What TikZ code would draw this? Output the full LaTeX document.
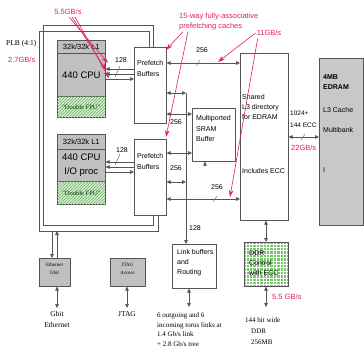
\documentclass[tikz,border=0pt]{standalone}
\usepackage{fontspec}
\setmainfont{Liberation Sans}
\newfontfamily\tnr{Liberation Serif}
\usetikzlibrary{arrows.meta,patterns}
\definecolor{magred}{RGB}{226,32,96}
\definecolor{boxgray}{RGB}{192,192,192}
\definecolor{edgray}{RGB}{200,200,200}
\definecolor{lnc}{RGB}{85,85,85}
\definecolor{fpug}{RGB}{214,238,208}
\definecolor{hatchg}{RGB}{110,175,100}
\definecolor{ddrg}{RGB}{120,198,108}
\begin{document}
\begin{tikzpicture}[x=1pt,y=-1pt,
  box/.style={draw=lnc, line width=0.6pt, inner sep=0pt, anchor=north west},
  gbox/.style={box, fill=boxgray},
  fpubox/.style={box, fill=fpug, postaction={pattern=north east lines, pattern color=hatchg}},
  ddrbox/.style={box, fill=ddrg},
  lbl/.style={inner sep=0pt, anchor=west, align=left, font=\fontsize{7}{10}\selectfont},
  rlbl/.style={inner sep=0pt, text=magred, align=left, font=\fontsize{7.5}{10}\selectfont},
  slbl/.style={inner sep=0pt, align=left, font=\tnr\fontsize{7}{9.7}\selectfont},
  ln/.style={draw=lnc, line width=0.6pt},
  tip/.style={ln, -{Triangle[length=4pt,width=3.6pt]}},
  dtip/.style={ln, {Triangle[length=4pt,width=3.6pt]}-{Triangle[length=4pt,width=3.6pt]}},
  rarr/.style={draw=magred, line width=0.6pt, -{Stealth[length=7pt,width=4.5pt]}},
  sl/.style={ln, line width=0.4pt},
  gridln/.style={draw=white, line width=0.7pt}
]
\useasboundingbox (0,0) rectangle (364,348);
\fill[white] (0,0) rectangle (364,348);

% ---- boxes ----
\node[gbox, minimum width=48pt, minimum height=13pt] (l1a) at (57,40) {};
\node[gbox, minimum width=48pt, minimum height=43pt] (cpua) at (57,53) {};
\node[fpubox, minimum width=48pt, minimum height=21pt] (fpua) at (57,96) {};
\node[gbox, minimum width=48pt, minimum height=15pt] (l1b) at (57,134) {};
\node[gbox, minimum width=48pt, minimum height=32pt] (cpub) at (57,149) {};
\node[fpubox, minimum width=48pt, minimum height=23pt] (fpub) at (57,181) {};
\node[box, fill=white, minimum width=32pt, minimum height=76pt] (pfa) at (134,47) {};
\node[box, fill=white, minimum width=32pt, minimum height=76pt] (pfb) at (134,139) {};
\node[box, fill=white, minimum width=43pt, minimum height=53pt] (sram) at (192,108) {};
\node[box, fill=white, minimum width=48pt, minimum height=167pt] (l3) at (240,53) {};
\node[box, fill=edgray, minimum width=44pt, minimum height=167pt] (edram) at (319,58) {};
\node[box, fill=white, minimum width=44pt, minimum height=44pt] (link) at (172,244) {};
\node[ddrbox, minimum width=44pt, minimum height=44pt] (ddr) at (244,242) {};
\node[gbox, minimum width=35pt, minimum height=28pt] (jtag) at (110,258) {};
\node[gbox, minimum width=31pt, minimum height=28pt] (eth) at (39,258) {};

% DDR checkered grid
\begin{scope}
  \clip (ddr.north west) rectangle (ddr.south east);
  \foreach \gx in {246,249.4,...,288} { \draw[gridln] (\gx,242) -- (\gx,286); }
  \foreach \gy in {244,247.4,...,286} { \draw[gridln] (244,\gy) -- (288,\gy); }
\end{scope}
\draw[ln] (ddr.north west) rectangle (ddr.south east);

% ---- box texts ----
\node[inner sep=0pt, font=\fontsize{7.5}{9}\selectfont] (l1at) at (l1a) {32k/32k L1};
\node[inner sep=0pt, font=\fontsize{9.5}{11}\selectfont] (cpuat) at (cpua) {440 CPU};
\node[inner sep=0pt, text=green!25!black, font=\tnr\fontsize{6.5}{8}\selectfont] (fpuat) at (fpua) {"Double FPU"};
\node[inner sep=0pt, font=\fontsize{7.5}{9}\selectfont] (l1bt) at (l1b) {32k/32k L1};
\node[inner sep=0pt, align=center, font=\fontsize{9.5}{14}\selectfont] (cpubt) at (cpub) {440 CPU\\I/O proc};
\node[inner sep=0pt, text=green!25!black, font=\tnr\fontsize{6.5}{8}\selectfont] (fpubt) at (fpub) {"Double FPU"};
\node[lbl, font=\fontsize{7}{11}\selectfont] (pfat) at (137,68.5) {Prefetch\\Buffers};
\node[lbl, font=\fontsize{7}{11}\selectfont] (pfbt) at (137,161.5) {Prefetch\\Buffers};
\node[lbl, font=\fontsize{7}{10.5}\selectfont] (sramt) at (196,128.5) {Multiported\\SRAM\\Buffer};
\node[lbl] (l3t) at (242,107) {Shared\\L3 directory\\for EDRAM};
\node[lbl] (l3t2) at (242,171) {Includes ECC};
\node[lbl, font=\bfseries\fontsize{7}{10}\selectfont] (edt1) at (323,82) {4MB\\EDRAM};
\node[lbl] (edt2) at (323,110) {L3 Cache};
\node[lbl] (edt3) at (323,130) {Multibank};
\node[lbl] (edt4) at (323,170) {I};
\node[lbl] (linkt) at (177,263) {Link buffers\\and\\Routing};
\node[lbl] (ddrt) at (249,263.5) {DDR\\Control\\with ECC};
\node[inner sep=0pt, align=center, font=\tnr\fontsize{5}{8}\selectfont] (jtagt) at (127.5,269) {JTAG\\Access};
\node[inner sep=0pt, align=center, font=\tnr\fontsize{5}{8}\selectfont] (etht) at (54.5,269) {Ethernet\\Gbit};

% ---- frame (PLB) ----
\draw[ln] (pfa.north -| 153,0) -- (153,25) -- (43,25) -- (43,225) -- (153,225) -- (pfb.south -| 153,0);
\draw[ln] (pfa.north -| 149,0) -- (149,31) -- (39,31) -- (39,231) -- (158,231) -- (pfb.south -| 158,0);

% ---- CPU <-> prefetch ----
\draw[tip] (pfa.west |- 0,69) -- (cpua.east |- 0,69);
\draw[tip] (pfa.west |- 0,74) -- (cpua.east |- 0,74);
\draw[tip] (cpua.east |- 0,79) -- (pfa.west |- 0,79);
\draw[sl] (115,77) -- (120,66);
\node[lbl] (b128a) at (115,60) {128};
\draw[tip] (pfb.west |- 0,162) -- (cpub.east |- 0,162);
\draw[tip] (pfb.west |- 0,167) -- (cpub.east |- 0,167);
\draw[tip] (cpub.east |- 0,172) -- (pfb.west |- 0,172);
\draw[sl] (115,165) -- (120,154);
\node[lbl] (b128b) at (116,150) {128};

% ---- prefetch right side ----
\coordinate (busTop) at (186,93);
\draw[dtip] (pfa.east |- 0,63) -- (l3.west |- 0,63);
\draw[sl] (196,66) -- (200,60);
\node[lbl] (b256a) at (196,50) {256};
\draw[dtip] (pfa.east |- busTop) -- (busTop);
\draw[dtip] (pfa.east |- 0,114) -- (sram.west |- 0,114);
\node[lbl] (b256b) at (170,122) {256};
\draw[dtip] (pfb.east |- 0,153) -- (sram.west |- 0,153);
\draw[dtip] (pfb.east |- 0,182) -- (busTop |- 0,182);
\node[lbl] (b256c) at (170,168) {256};
\draw[dtip] (pfb.east |- 0,199) -- (l3.west |- 0,199);
\draw[sl] (213,202) -- (217,196);
\node[lbl] (b256d) at (211,187) {256};
\draw[tip] (busTop) -- (busTop |- link.north);
\node[lbl] (b128c) at (189,228) {128};
\coordinate (sramin) at (205,166);
\draw[tip] (sramin) -- (sramin |- sram.south);

% ---- L3 connections ----
\draw[dtip] (l3.east |- 0,137) -- (edram.west |- 0,137);
\draw[sl] (301,140) -- (305,134);
\node[lbl, font=\fontsize{6.5}{12}\selectfont] (b1024) at (290,119) {1024+\\144 ECC};
\node[rlbl, anchor=west] (r22) at (291,148) {22GB/s};
\draw[dtip] (l3.south -| 266,0) -- (ddr.north -| 266,0);
\coordinate (ddrEnd) at (266,307);
\draw[dtip] (ddr.south -| ddrEnd) -- (ddrEnd);
\node[rlbl, anchor=west] (r55b) at (272,297) {5.5 GB/s};
\node[slbl, anchor=west, font=\tnr\fontsize{7}{11}\selectfont] (ddrtxt) at (245,331) {144 bit wide\\\hspace*{6pt}DDR\\\hspace*{6pt}256MB};

% ---- link / jtag / ethernet ----
\coordinate (linkEnd) at (189,307);
\draw[dtip] (link.south -| linkEnd) -- (linkEnd);
\node[slbl, anchor=west] (torus) at (157,329.5) {6 outgoing and 6\\incoming torus links at\\1.4 Gb/s link\\+ 2.8 Gb/s tree};
\coordinate (jtagEnd) at (127,308);
\draw[dtip] (jtag.south -| jtagEnd) -- (jtagEnd);
\node[slbl, anchor=north, align=center, font=\tnr\fontsize{7.5}{10}\selectfont] (jtagl) at (127,311) {JTAG};
\coordinate (ethEnd) at (57,308);
\draw[dtip] (eth.south -| ethEnd) -- (ethEnd);
\node[slbl, anchor=north, align=center, font=\tnr\fontsize{7.5}{11}\selectfont] (ethl) at (57,311) {Gbit\\Ethernet};
\coordinate (plbA) at (52,231);
\coordinate (plbB) at (57,231);
\draw[tip] (plbA) -- (plbA |- eth.north);
\draw[tip] (plbB |- eth.north) -- (plbB);

% ---- side labels ----
\node[slbl, anchor=west, font=\tnr\fontsize{7.5}{9}\selectfont] (plb) at (6,44) {PLB (4:1)};
\node[rlbl, anchor=west] (r27) at (8,60) {2.7GB/s};

% ---- red annotations ----
\node[rlbl] (r55) at (68,12) {5.5GB/s};
\coordinate (e1) at (108,63);
\coordinate (e2) at (106,70);
\coordinate (e3) at (109,78);
\draw[rarr] ([xshift=1pt,yshift=-2pt]r55.south) -- (e1);
\draw[rarr] ([xshift=4pt,yshift=-2pt]r55.south) -- (e2);
\draw[rarr] ([xshift=7pt,yshift=-2pt]r55.south) -- (e3);

\node[rlbl, anchor=west] (r15) at (179,22) {15-way fully-associative\\prefetching caches};
\coordinate (e4) at (166,50);
\coordinate (e5) at (166,137);
\draw[rarr] ([xshift=4pt,yshift=-1pt]r15.south west) -- (e4);
\draw[rarr] ([xshift=9pt,yshift=-1pt]r15.south west) -- (e5);

\node[rlbl] (r11) at (269,33) {11GB/s};
\coordinate (e6) at (218,62);
\coordinate (e7) at (230,197);
\draw[rarr] ([xshift=-1pt]r11.west) -- (e6);
\draw[rarr] ([xshift=1pt,yshift=-3pt]r11.south west) -- (e7);
\end{tikzpicture}
\end{document}
